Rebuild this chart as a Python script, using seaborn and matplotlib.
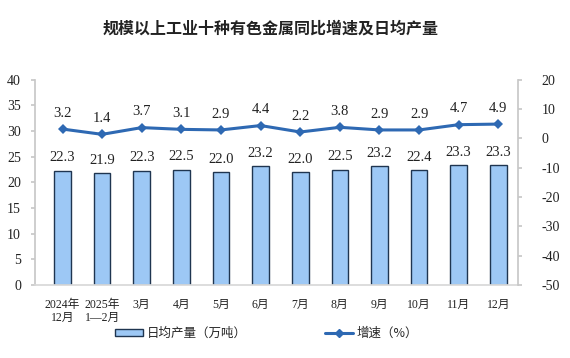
import matplotlib
matplotlib.use("Agg")
import matplotlib.pyplot as plt
import seaborn as sns
import pandas as pd
import numpy as np
from matplotlib.lines import Line2D
from matplotlib.patches import Patch

sns.set_theme(style="white")
plt.rcParams['font.family'] = ['Liberation Serif', 'Noto Sans CJK SC', 'DejaVu Sans']
plt.rcParams['axes.unicode_minus'] = False

categories = ["2024年\n12月", "2025年\n1—2月", "3月", "4月", "5月", "6月", "7月", "8月", "9月", "10月", "11月", "12月"]
daily_output = [22.3, 21.9, 22.3, 22.5, 22.0, 23.2, 22.0, 22.5, 23.2, 22.4, 23.3, 23.3]
growth = [3.2, 1.4, 3.7, 3.1, 2.9, 4.4, 2.2, 3.8, 2.9, 2.9, 4.7, 4.9]

df = pd.DataFrame({"cat": categories, "out": daily_output, "g": growth})

fig = plt.figure(figsize=(5.7, 3.58), dpi=100)
ax = fig.add_axes([0.061, 0.204, 0.848, 0.573])
sns.barplot(data=df, x="cat", y="out", ax=ax, color="#9DC8F5", edgecolor="#1F3550",
            linewidth=1.0, width=0.42, saturation=1)
ax.set_ylim(0, 40)
ax.set_yticks(range(0, 41, 5))
ax.set_xlim(-0.7, 11.5)
ax.set_xlabel("")
ax.set_ylabel("")
for i, v in enumerate(daily_output):
    ax.text(i, v + 1.2, f"{v:.1f}", ha="center", va="bottom", fontsize=10.5,
            family=['Liberation Serif'], color="#222222")

ax2 = ax.twinx()
x = np.arange(len(growth))
sns.lineplot(x=x, y=growth, ax=ax2, color="#2E69B3", linewidth=2.2, marker="D",
             markersize=5, markeredgewidth=0)
ax2.set_ylim(-50, 20)
ax2.set_yticks(range(-50, 21, 10))
for i, v in enumerate(growth):
    ax2.text(i, v + 3.2, f"{v:.1f}", ha="center", va="bottom", fontsize=10.5,
             family=['Liberation Serif'], color="#222222")

for a in (ax, ax2):
    for s in a.spines.values():
        s.set_visible(False)
ax.spines['left'].set_visible(True)
ax.spines['left'].set_color("#C8C8C8")
ax.spines['bottom'].set_visible(True)
ax.spines['bottom'].set_color("#D8D8D8")
ax2.spines['right'].set_visible(True)
ax2.spines['right'].set_color("#C8C8C8")

ax.tick_params(axis='y', left=True, length=3, color="#C8C8C8", labelsize=10, pad=7, labelcolor="#222222")
ax.tick_params(axis='x', bottom=False, labelsize=8.5, pad=4, labelcolor="#222222")
for lab in ax.get_xticklabels():
    lab.set_family(['Liberation Serif', 'Noto Sans CJK SC'])
    lab.set_linespacing(1.1)
ax2.tick_params(axis='y', right=True, length=3, color="#C8C8C8", labelsize=10, pad=14, labelcolor="#222222")
for lab in ax.get_yticklabels() + ax2.get_yticklabels():
    lab.set_family(['Liberation Serif'])

fig.text(0.475, 0.92, "规模以上工业十种有色金属同比增速及日均产量", ha="center", va="center",
         fontsize=11.5, fontweight="bold", family=['Noto Sans CJK SC'], color="#222222")

handles = [Patch(facecolor="#9DC8F5", edgecolor="#1F3550", linewidth=1.0),
           Line2D([0], [0], color="#2E69B3", linewidth=2.2, marker="D", markersize=4)]
labels = ["日均产量（万吨）", "增速（%）"]
leg = fig.legend(handles, labels, loc="center", bbox_to_anchor=(0.468, 0.068), ncol=2,
                 frameon=False, columnspacing=6.3, handlelength=2.2, handletextpad=0.3,
                 handleheight=0.45, prop={'family': ['Noto Sans CJK SC'], 'size': 9})

fig.savefig("out.png", dpi=100)
